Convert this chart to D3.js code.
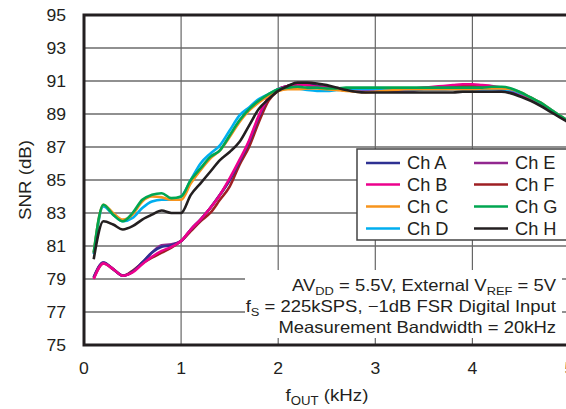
<!DOCTYPE html>
<html><head><meta charset="utf-8">
<script src="https://cdn.jsdelivr.net/npm/d3@7"></script>
<style>body{margin:0;background:#fff;}svg{display:block;font-family:"Liberation Sans",Arial,sans-serif;}</style>
</head><body><svg id="c" width="566" height="409"></svg>
<script>
const xs = [0.1,0.2,0.3,0.4,0.5,0.6,0.7,0.8,0.9,1.0,1.1,1.2,1.3,1.4,1.5,1.6,1.7,1.8,1.9,2.0,2.1,2.2,2.3,2.4,2.5,2.6,2.7,2.8,2.9,3.0,3.1,3.2,3.3,3.4,3.5,3.6,3.7,3.8,3.9,4.0,4.1,4.2,4.3,4.4,4.5,4.6,4.7,4.8,4.9,5.0];
const chA = [79.1,80.0,79.6,79.2,79.45,80.0,80.6,80.95,81.05,81.3, 82.0,82.6,83.3,84.1,85.0,86.1,87.3,88.8,90.0,90.5, 90.7,90.8,90.75,90.7,90.6,90.5,90.45,90.4,90.4,90.4, 90.4,90.45,90.45,90.45,90.5,90.5,90.5,90.55,90.55,90.55, 90.55,90.55,90.5,90.4,90.15,89.9,89.6,89.25,88.85,88.5];
const chB = [79.0,79.95,79.6,79.2,79.4,79.9,80.35,80.7,80.95,81.3, 82.0,82.6,83.3,84.1,85.1,86.2,87.4,88.9,90.0,90.5, 90.7,90.8,90.75,90.65,90.6,90.5,90.45,90.4,90.4,90.4, 90.45,90.5,90.5,90.55,90.6,90.65,90.7,90.75,90.8,90.8, 90.75,90.7,90.6,90.45,90.2,89.9,89.6,89.25,88.85,88.5];
const chC = [80.6,83.5,83.0,82.6,82.9,83.7,84.0,83.95,83.8,83.8, 84.8,85.6,86.3,86.8,87.6,88.5,89.2,89.7,90.1,90.4, 90.5,90.5,90.55,90.55,90.5,90.45,90.4,90.35,90.3,90.35, 90.4,90.45,90.5,90.5,90.5,90.5,90.5,90.5,90.5,90.5, 90.55,90.55,90.55,90.5,90.3,90.0,89.7,89.3,88.9,88.55];
const chD = [80.5,83.4,82.9,82.5,82.7,83.3,83.7,83.8,83.8,84.0, 85.0,86.0,86.6,87.1,88.0,88.9,89.4,89.9,90.2,90.5, 90.6,90.55,90.45,90.4,90.4,90.45,90.5,90.5,90.5,90.5, 90.5,90.5,90.5,90.5,90.5,90.5,90.5,90.5,90.5,90.5, 90.5,90.5,90.5,90.45,90.25,90.0,89.65,89.3,88.9,88.55];
const chE = [79.1,80.0,79.6,79.2,79.45,80.0,80.6,81.05,81.1,81.3, 82.0,82.6,83.3,84.1,85.0,86.1,87.3,88.8,90.0,90.5, 90.7,90.85,90.8,90.7,90.6,90.5,90.45,90.4,90.4,90.4, 90.4,90.4,90.45,90.45,90.5,90.5,90.5,90.5,90.5,90.5, 90.5,90.5,90.45,90.35,90.1,89.85,89.55,89.2,88.85,88.5];
const chF = [79.05,79.95,79.6,79.2,79.5,79.95,80.3,80.6,80.9,81.3, 81.9,82.5,83.0,83.8,84.6,85.9,87.0,88.5,89.8,90.4, 90.7,90.8,90.75,90.7,90.6,90.5,90.45,90.4,90.4,90.4, 90.45,90.5,90.5,90.55,90.55,90.6,90.65,90.7,90.7,90.7, 90.65,90.6,90.55,90.45,90.2,89.9,89.6,89.25,88.85,88.5];
const chG = [80.6,83.5,82.9,82.5,83.0,83.8,84.1,84.2,83.9,84.0, 85.0,85.7,86.4,86.8,87.7,88.6,89.3,89.8,90.2,90.5, 90.6,90.65,90.6,90.6,90.55,90.55,90.6,90.6,90.6,90.6, 90.6,90.6,90.6,90.6,90.6,90.6,90.6,90.6,90.6,90.6, 90.6,90.65,90.65,90.55,90.3,90.0,89.7,89.3,88.9,88.55];
const chH = [80.2,82.5,82.3,82.0,82.2,82.6,82.9,83.15,83.0,83.0, 84.1,84.8,85.5,86.2,86.7,87.3,88.3,89.3,89.9,90.4, 90.7,90.9,90.9,90.85,90.75,90.6,90.45,90.35,90.3,90.3, 90.3,90.3,90.3,90.3,90.3,90.3,90.3,90.3,90.35,90.35, 90.35,90.35,90.35,90.25,90.05,89.8,89.5,89.15,88.8,88.45];
const seriesNames = ["Ch A","Ch B","Ch C","Ch D","Ch E","Ch F","Ch G","Ch H"];
const seriesValues = [chA,chB,chC,chD,chE,chF,chG,chH];
const seriesColors = ["#2e3192","#ec008c","#f7941d","#00aeef","#92278f","#9e1f23","#00a651","#231f20"];
const xTicks = [0,1,2,3,4,5];
const yTicks = [75,77,79,81,83,85,87,89,91,93,95];

const svg = d3.select("#c");
const L=84, R=569.5, T=15, B=345;
const x = d3.scaleLinear().domain([0,5]).range([L,R]);
const y = d3.scaleLinear().domain([75,95]).range([B,T]);
const INK = "#231f20";

// grid
svg.append("g").selectAll("line").data(yTicks.filter(v=>v>75&&v<95)).join("line")
  .attr("x1",L).attr("x2",R).attr("y1",d=>y(d)).attr("y2",d=>y(d))
  .attr("stroke","#222").attr("stroke-width",1.2);
svg.append("g").selectAll("line").data(xTicks.filter(v=>v>0&&v<5)).join("line")
  .attr("y1",T).attr("y2",B).attr("x1",d=>x(d)).attr("x2",d=>x(d))
  .attr("stroke","#666").attr("stroke-width",1.2);

// lines
svg.append("clipPath").attr("id","pc").append("rect").attr("x",L).attr("y",T).attr("width",R-L).attr("height",B-T);
const line = d3.line().x((d,i)=>x(xs[i])).y(d=>y(d)).curve(d3.curveMonotoneX);
const order = [4,5,0,1,3,2,6,7];
svg.append("g").attr("clip-path","url(#pc)").selectAll("path").data(order).join("path")
  .attr("d",i=>line(seriesValues[i])).attr("fill","none")
  .attr("stroke",i=>seriesColors[i]).attr("stroke-width",2.6).attr("stroke-linejoin","round");

// annotation box
svg.append("rect").attr("x",245).attr("y",270).attr("width",317).attr("height",68).attr("fill","#fff");
const ann = svg.append("g").attr("font-size",16.5).attr("fill",INK).attr("text-anchor","end");
function addLine(yy, parts){
  const tx = ann.append("text").attr("transform",`translate(556,${yy}) scale(1.12,1)`);
  let shifted=false;
  parts.forEach(p=>{
    if(p.s){ tx.append("tspan").attr("font-size",11.5).attr("dy",4).text(p.s); shifted=true; }
    else { const ts=tx.append("tspan").text(p.t); if(shifted){ts.attr("dy",-4); shifted=false;} }
  });
}
addLine(291,[{t:"AV"},{s:"DD"},{t:" = 5.5V, External V"},{s:"REF"},{t:" = 5V"}]);
addLine(311.5,[{t:"f"},{s:"S"},{t:" = 225kSPS, \u22121dB FSR Digital Input"}]);
addLine(333,[{t:"Measurement Bandwidth = 20kHz"}]);

// legend
svg.append("rect").attr("x",357).attr("y",149).attr("width",220).attr("height",91)
  .attr("fill","#fff").attr("stroke","#444").attr("stroke-width",1.5);
const lg = svg.append("g").selectAll("g").data(seriesNames).join("g")
  .attr("transform",(d,i)=>`translate(${i<4?366:474},${[163,184.5,206.5,228.5][i%4]})`);
lg.append("line").attr("x1",0).attr("x2",34).attr("stroke",(d,i)=>seriesColors[i]).attr("stroke-width",2.6);
lg.append("text").attr("transform","translate(41,6) scale(1.04,1)").attr("font-size",17.5).attr("fill",INK).text(d=>d);

// border
svg.append("path").attr("d",`M${R+5},${T}H${L}V${B}H${R+5}`).attr("fill","none").attr("stroke",INK).attr("stroke-width",3);

// tick labels
svg.append("g").selectAll("text").data(yTicks).join("text")
  .attr("transform",d=>`translate(66,${y(d)+6}) scale(1.1,1)`).attr("text-anchor","end")
  .attr("font-size",16).attr("fill",INK).text(d=>d);
svg.append("g").selectAll("text").data(xTicks).join("text")
  .attr("transform",d=>`translate(${x(d)},374) scale(1.1,1)`).attr("text-anchor","middle")
  .attr("font-size",16).attr("fill",INK).text(d=>d);

// axis titles
const xt = svg.append("text").attr("transform","translate(327,401) scale(1.1,1)").attr("text-anchor","middle")
  .attr("font-size",17).attr("fill",INK);
xt.append("tspan").text("f");
xt.append("tspan").attr("font-size",12).attr("dy",4).text("OUT");
xt.append("tspan").attr("dy",-4).text(" (kHz)");
svg.append("text").attr("transform","translate(31,180) rotate(-90) scale(1.1,1)").attr("text-anchor","middle")
  .attr("font-size",17).attr("fill",INK).text("SNR (dB)");
</script></body></html>
